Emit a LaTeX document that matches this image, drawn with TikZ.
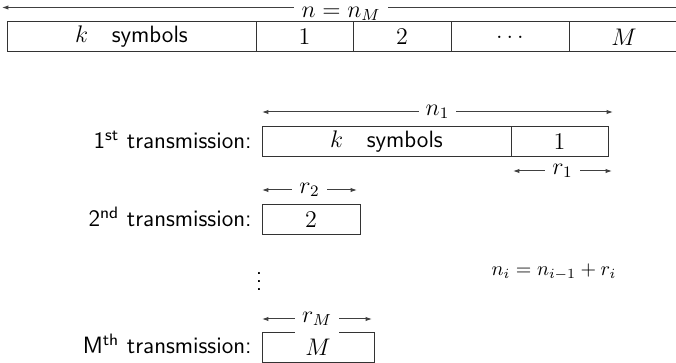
\documentclass[tikz,border=0pt]{standalone}
\usepackage{fontspec}
\usetikzlibrary{arrows.meta}
\begin{document}
\begin{tikzpicture}[x=0.5pt,y=-0.5pt,
  font=\sffamily\fontsize{11.8}{14}\selectfont,
  cell/.style={draw=black!80, line width=0.5pt, minimum height=15pt,
    inner sep=0pt, outer sep=0pt, anchor=north west},
  dim/.style={{Latex[length=3.2pt,width=2.2pt]}-{Latex[length=3.2pt,width=2.2pt]},
    draw=black!75, line width=0.5pt},
  dimlabel/.style={midway, fill=white, inner sep=3.5pt},
  rowlabel/.style={anchor=base east, inner sep=0pt}]
\useasboundingbox (0,0) rectangle (676,363);
\clip (0,0) rectangle (676,363);

% overall length of the codeword
\coordinate (nL) at (2,7.5);
\coordinate (nR) at (690,7.5);
\draw[dim] (nL) -- (nR);
\node[fill=white, anchor=base, inner xsep=4pt, inner ysep=0pt] (nlab) at (341,17.3) {$n = n_M$};

% full codeword
\node[cell, minimum width=124.5pt] (t0) at (7,22) {$k$\quad symbols};
\node[cell, minimum width=48.5pt] (t1) at (256,22) {$1$};
\node[cell, minimum width=49pt] (t2) at (353,22) {$2$};
\node[cell, minimum width=59pt] (t3) at (451,22) {$\dots$};
\node[cell, minimum width=55pt] (t4) at (569,22) {$M$};

% first transmission
\node[rowlabel] (l1) at (252,149) {1\textsuperscript{st} transmission:};
\node[cell, minimum width=124.5pt] (a0) at (262,127) {$k$\quad symbols};
\node[cell, minimum width=48.5pt] (a1) at (511,127) {$1$};
\coordinate (n1L) at (262,112);
\coordinate (n1R) at (613,112);
\draw[dim] (n1L) -- (n1R) node[dimlabel] {$n_1$};
\coordinate (r1L) at (513,171);
\coordinate (r1R) at (612,171);
\draw[dim] (r1L) -- (r1R) node[dimlabel] {$r_1$};

% second transmission
\node[rowlabel] (l2) at (252,227) {2\textsuperscript{nd} transmission:};
\node[cell, minimum width=49pt] (b0) at (262,205) {$2$};
\coordinate (r2L) at (262,190);
\coordinate (r2R) at (357,190);
\draw[dim] (r2L) -- (r2R) node[dimlabel] {$r_2$};

% intermediate transmissions
\node[inner sep=0pt] (dots) at (259,275.5) {$\vdots$};
\node[font=\fontsize{9.8}{12}\selectfont] (rel) at (554,272) {$n_i = n_{i-1} + r_i$};

% last transmission
\node[rowlabel] (lM) at (252,354) {M\textsuperscript{th} transmission:};
\node[cell, minimum width=56pt] (c0) at (262,332.5) {$M$};
\coordinate (rML) at (262,319);
\coordinate (rMR) at (372,319);
\draw[dim] (rML) -- (rMR) node[dimlabel] {$r_M$};
\end{tikzpicture}
\end{document}
